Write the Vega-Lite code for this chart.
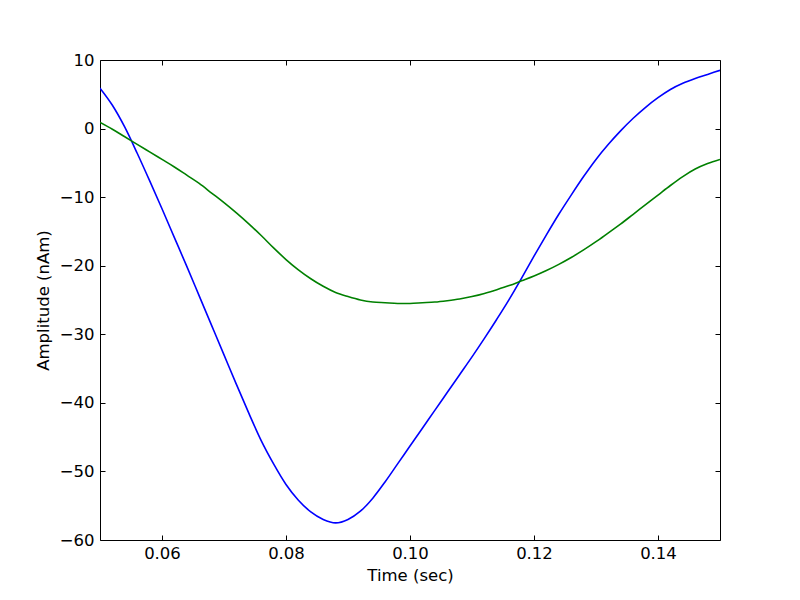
{
  "$schema": "https://vega.github.io/schema/vega-lite/v6.json",
  "width": 620,
  "height": 480,
  "autosize": {"type": "none"},
  "padding": {"left": 100, "top": 60, "right": 80, "bottom": 60},
  "background": "white",
  "config": {
    "view": {"stroke": "black", "strokeWidth": 1},
    "font": "DejaVu Sans",
    "axis": {
      "grid": false,
      "domain": false,
      "tickColor": "black",
      "tickSize": -5,
      "tickWidth": 1,
      "labelFont": "DejaVu Sans",
      "labelFontSize": 16.5,
      "labelColor": "black",
      "titleFont": "DejaVu Sans",
      "titleFontSize": 16.5,
      "titleFontWeight": "normal",
      "titleColor": "black"
    }
  },
  "data": {
    "values": [
      {"t": 0.050, "series": "blue", "amp": 5.9},
      {"t": 0.052, "series": "blue", "amp": 3.4},
      {"t": 0.054, "series": "blue", "amp": 0.2},
      {"t": 0.056, "series": "blue", "amp": -3.6},
      {"t": 0.058, "series": "blue", "amp": -7.6},
      {"t": 0.060, "series": "blue", "amp": -11.7},
      {"t": 0.062, "series": "blue", "amp": -15.9},
      {"t": 0.064, "series": "blue", "amp": -20.1},
      {"t": 0.066, "series": "blue", "amp": -24.4},
      {"t": 0.068, "series": "blue", "amp": -28.7},
      {"t": 0.070, "series": "blue", "amp": -33.0},
      {"t": 0.072, "series": "blue", "amp": -37.3},
      {"t": 0.074, "series": "blue", "amp": -41.5},
      {"t": 0.076, "series": "blue", "amp": -45.5},
      {"t": 0.078, "series": "blue", "amp": -48.9},
      {"t": 0.080, "series": "blue", "amp": -51.9},
      {"t": 0.082, "series": "blue", "amp": -54.2},
      {"t": 0.084, "series": "blue", "amp": -55.9},
      {"t": 0.086, "series": "blue", "amp": -57.0},
      {"t": 0.088, "series": "blue", "amp": -57.5},
      {"t": 0.090, "series": "blue", "amp": -57.0},
      {"t": 0.092, "series": "blue", "amp": -55.8},
      {"t": 0.094, "series": "blue", "amp": -53.9},
      {"t": 0.096, "series": "blue", "amp": -51.5},
      {"t": 0.098, "series": "blue", "amp": -48.9},
      {"t": 0.100, "series": "blue", "amp": -46.3},
      {"t": 0.102, "series": "blue", "amp": -43.7},
      {"t": 0.104, "series": "blue", "amp": -41.1},
      {"t": 0.106, "series": "blue", "amp": -38.5},
      {"t": 0.108, "series": "blue", "amp": -35.9},
      {"t": 0.110, "series": "blue", "amp": -33.3},
      {"t": 0.112, "series": "blue", "amp": -30.6},
      {"t": 0.114, "series": "blue", "amp": -27.8},
      {"t": 0.116, "series": "blue", "amp": -24.9},
      {"t": 0.118, "series": "blue", "amp": -21.8},
      {"t": 0.120, "series": "blue", "amp": -18.6},
      {"t": 0.122, "series": "blue", "amp": -15.5},
      {"t": 0.124, "series": "blue", "amp": -12.5},
      {"t": 0.126, "series": "blue", "amp": -9.7},
      {"t": 0.128, "series": "blue", "amp": -7.0},
      {"t": 0.130, "series": "blue", "amp": -4.5},
      {"t": 0.132, "series": "blue", "amp": -2.3},
      {"t": 0.134, "series": "blue", "amp": -0.3},
      {"t": 0.136, "series": "blue", "amp": 1.5},
      {"t": 0.138, "series": "blue", "amp": 3.1},
      {"t": 0.140, "series": "blue", "amp": 4.5},
      {"t": 0.142, "series": "blue", "amp": 5.7},
      {"t": 0.144, "series": "blue", "amp": 6.6},
      {"t": 0.146, "series": "blue", "amp": 7.3},
      {"t": 0.148, "series": "blue", "amp": 7.9},
      {"t": 0.150, "series": "blue", "amp": 8.5},
      {"t": 0.050, "series": "green", "amp": 0.9},
      {"t": 0.052, "series": "green", "amp": -0.1},
      {"t": 0.054, "series": "green", "amp": -1.2},
      {"t": 0.056, "series": "green", "amp": -2.3},
      {"t": 0.058, "series": "green", "amp": -3.4},
      {"t": 0.060, "series": "green", "amp": -4.5},
      {"t": 0.062, "series": "green", "amp": -5.6},
      {"t": 0.064, "series": "green", "amp": -6.8},
      {"t": 0.066, "series": "green", "amp": -8.0},
      {"t": 0.068, "series": "green", "amp": -9.4},
      {"t": 0.070, "series": "green", "amp": -10.8},
      {"t": 0.072, "series": "green", "amp": -12.3},
      {"t": 0.074, "series": "green", "amp": -13.9},
      {"t": 0.076, "series": "green", "amp": -15.6},
      {"t": 0.078, "series": "green", "amp": -17.4},
      {"t": 0.080, "series": "green", "amp": -19.1},
      {"t": 0.082, "series": "green", "amp": -20.6},
      {"t": 0.084, "series": "green", "amp": -21.9},
      {"t": 0.086, "series": "green", "amp": -23.0},
      {"t": 0.088, "series": "green", "amp": -23.9},
      {"t": 0.090, "series": "green", "amp": -24.5},
      {"t": 0.092, "series": "green", "amp": -25.0},
      {"t": 0.094, "series": "green", "amp": -25.3},
      {"t": 0.096, "series": "green", "amp": -25.4},
      {"t": 0.098, "series": "green", "amp": -25.5},
      {"t": 0.100, "series": "green", "amp": -25.5},
      {"t": 0.102, "series": "green", "amp": -25.4},
      {"t": 0.104, "series": "green", "amp": -25.3},
      {"t": 0.106, "series": "green", "amp": -25.1},
      {"t": 0.108, "series": "green", "amp": -24.85},
      {"t": 0.110, "series": "green", "amp": -24.5},
      {"t": 0.112, "series": "green", "amp": -24.05},
      {"t": 0.114, "series": "green", "amp": -23.5},
      {"t": 0.116, "series": "green", "amp": -22.9},
      {"t": 0.118, "series": "green", "amp": -22.2},
      {"t": 0.120, "series": "green", "amp": -21.5},
      {"t": 0.122, "series": "green", "amp": -20.7},
      {"t": 0.124, "series": "green", "amp": -19.8},
      {"t": 0.126, "series": "green", "amp": -18.8},
      {"t": 0.128, "series": "green", "amp": -17.7},
      {"t": 0.130, "series": "green", "amp": -16.5},
      {"t": 0.132, "series": "green", "amp": -15.2},
      {"t": 0.134, "series": "green", "amp": -13.9},
      {"t": 0.136, "series": "green", "amp": -12.5},
      {"t": 0.138, "series": "green", "amp": -11.1},
      {"t": 0.140, "series": "green", "amp": -9.7},
      {"t": 0.142, "series": "green", "amp": -8.3},
      {"t": 0.144, "series": "green", "amp": -7.0},
      {"t": 0.146, "series": "green", "amp": -5.9},
      {"t": 0.148, "series": "green", "amp": -5.1},
      {"t": 0.150, "series": "green", "amp": -4.5}
    ]
  },
  "layer": [
    {
      "mark": {"type": "line", "strokeWidth": 1.6, "clip": true, "interpolate": "monotone"},
      "encoding": {
        "x": {
          "field": "t", "type": "quantitative",
          "scale": {"domain": [0.05, 0.15], "nice": false, "zero": false},
          "axis": {"orient": "bottom", "title": "Time (sec)", "values": [0.06, 0.08, 0.10, 0.12, 0.14], "format": ".2f", "labelPadding": 10, "titlePadding": 6}
        },
        "y": {
          "field": "amp", "type": "quantitative",
          "scale": {"domain": [-60, 10], "nice": false, "zero": false},
          "axis": {"orient": "left", "title": "Amplitude (nAm)", "values": [-60, -50, -40, -30, -20, -10, 0, 10], "format": "d", "labelPadding": 11, "titlePadding": 8}
        },
        "color": {
          "field": "series", "type": "nominal",
          "scale": {"domain": ["blue", "green"], "range": ["#0000ff", "#008000"]},
          "legend": null
        }
      }
    },
    {
      "mark": {"type": "line", "opacity": 0},
      "encoding": {
        "x": {
          "field": "t", "type": "quantitative",
          "scale": {"domain": [0.05, 0.15], "nice": false, "zero": false},
          "axis": {"orient": "top", "title": null, "labels": false, "values": [0.06, 0.08, 0.10, 0.12, 0.14]}
        },
        "y": {
          "field": "amp", "type": "quantitative",
          "scale": {"domain": [-60, 10], "nice": false, "zero": false},
          "axis": {"orient": "right", "title": null, "labels": false, "values": [-60, -50, -40, -30, -20, -10, 0, 10]}
        },
        "detail": {"field": "series", "type": "nominal"}
      }
    }
  ],
  "resolve": {"axis": {"x": "independent", "y": "independent"}}
}
